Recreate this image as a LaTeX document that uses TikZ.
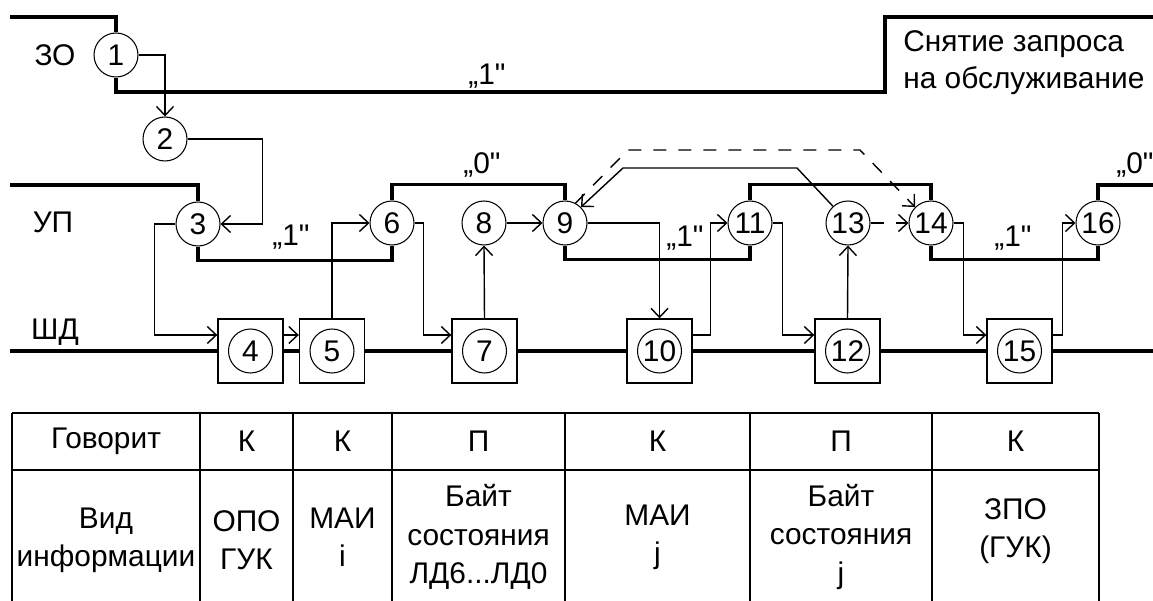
\documentclass[tikz,border=0pt]{standalone}
\usepackage{fontspec}
\newfontfamily\lsans{Liberation Sans}
\usetikzlibrary{arrows.meta}

\begin{document}
\begin{tikzpicture}[x=0.02cm,y=-0.02cm,
    every node/.style={font=\lsans\fontsize{17}{21}\selectfont},
    st/.style={circle,draw,line width=0.6pt,minimum size=0.88cm,inner sep=0pt},
    blk/.style={draw,line width=0.8pt,minimum width=1.3cm,minimum height=1.28cm,inner sep=0pt},
    sig/.style={line width=2.2pt},
    lnk/.style={line width=0.8pt,-{Straight Barb[length=1.8mm,width=3.4mm]}},
    dsh/.style={lnk,dash pattern=on 0.26cm off 0.24cm},
    tab/.style={line width=1.6pt},
    cell/.style={font=\lsans\fontsize{17}{21.8}\selectfont,align=center,inner sep=0pt}]
    \useasboundingbox (0,0) rectangle (1153,601);

    % states on the lines
    \node[st] (c1) at (116,55) {1};
    \node[st] (c2) at (165,139) {2};
    \node[st] (c3) at (198,224) {3};
    \node[st] (c6) at (392,223) {6};
    \node[st] (c8) at (484,223) {8};
    \node[st] (c9) at (565,223) {9};
    \node[st] (c11) at (750,223) {11};
    \node[st] (c13) at (848,223) {13};
    \node[st] (c14) at (931,223) {14};
    \node[st] (c16) at (1098,223) {16};
    % transfers on the data bus
    \foreach \n/\x in {4/250.5,5/332,7/484.5,10/659.5,12/847.5,15/1019.5} {
        \node[blk] (b\n) at (\x,351) {};
        \node[st] (n\n) at (b\n) {\n};
    }

    \node (zo) at (55,55) {ЗО};
    \node (up) at (53,222) {УП};
    \node (shd) at (55,332) {ШД};
    \node[align=left,anchor=north west,inner sep=0pt] (rel) at (903,30) {Снятие запроса\\на обслуживание};
    \node (q1) at (487,76) {„1"};
    \node (q2) at (291,237) {„1"};
    \node (q3) at (482,165) {„0"};
    \node (q4) at (685,238) {„1"};
    \node (q5) at (1013,238) {„1"};
    \node (q6) at (1135,165) {„0"};

    % signal lines
    \draw[sig] (10,17) -| (c1.north);
    \draw[sig] (c1.south) |- (885,92) |- (1153,17);
    \draw[sig] (10,185) -| (c3.north);
    \draw[sig] (c3.south) -- ++(0,14) -| (c6.south);
    \draw[sig] (c6.north) -- ++(0,-16) -| (c9.north);
    \draw[sig] (c9.south) -- ++(0,14) -| (c11.south);
    \draw[sig] (c11.north) -- ++(0,-16) -| (c14.north);
    \draw[sig] (c14.south) -- ++(0,14) -| (c16.south);
    \draw[sig] (c16.north) |- (1153,185);
    \draw[sig] (10,351) -- (b4.west) (b4.east) -- (b5.west) (b5.east) -- (b7.west)
        (b7.east) -- (b10.west) (b10.east) -- (b12.west) (b12.east) -- (b15.west)
        (b15.east) -- (1153,351);

    % sequence
    \draw[lnk] (c1.east) -| (c2.north);
    \draw[lnk] (c2.east) -- ++(75,0) |- (c3.east);
    \draw[lnk] (c3.west) -- ++(-21,0) |- ([yshift=0.32cm]b4.west);
    \draw[lnk] ([yshift=0.32cm]b4.east) -- ([yshift=0.32cm]b5.west);
    \draw[lnk] (b5.north) |- (c6.west);
    \draw[lnk] (c6.east) -- ++(9,0) |- ([yshift=0.32cm]b7.west);
    \draw[lnk] (b7.north) -- (c8.south);
    \draw[lnk] (c8) -- (c9);
    \draw[lnk] (c9.east) -| (b10.north);
    \draw[lnk] ([yshift=0.32cm]b10.east) -- ++(18,0) |- (c11.west);
    \draw[lnk] (c11.east) -- ++(10,0) |- ([yshift=0.32cm]b12.west);
    \draw[lnk] (b12.north) -- (c13.south);
    \draw[dsh] (c13) -- (c14);
    \draw[lnk] (c14.east) -- ++(10,0) |- ([yshift=0.32cm]b15.west);
    \draw[lnk] ([yshift=0.32cm]b15.east) -- ++(10,0) |- (c16.west);
    \draw[lnk] (c13.132) -- (797,168) -- (623,168) -- (c9.45);
    \draw[dsh] (c9.62) -- (628,150) -- (860,150) -- (c14.135);

    % table
    \draw[tab] (12,413) -- (1099,413) (12,470) -- (1099,470);
    \foreach \x in {12,200,293,392,565,750,932,1099}
        \draw[tab] (\x,413) -- (\x,601);
    \foreach \x/\t [count=\i] in {106/Говорит,246.5/К,342.5/К,478.5/П,657.5/К,841/П,1015.5/К}
        \node[cell] (h\i) at (\x,441) {\t};
    \node[cell] (v1) at (106,540) {Вид\\информации};
    \node[cell] (v2) at (246.5,540) {ОПО\\ГУК};
    \node[cell] (v3) at (342.5,537) {МАИ\\i};
    \node[cell] (v4) at (478.5,537) {Байт\\состояния\\ЛД6...ЛД0};
    \node[cell] (v5) at (657.5,537) {МАИ\\j};
    \node[cell] (v6) at (841,537) {Байт\\состояния\\j};
    \node[cell] (v7) at (1015.5,531) {ЗПО\\(ГУК)};
\end{tikzpicture}
\end{document}
